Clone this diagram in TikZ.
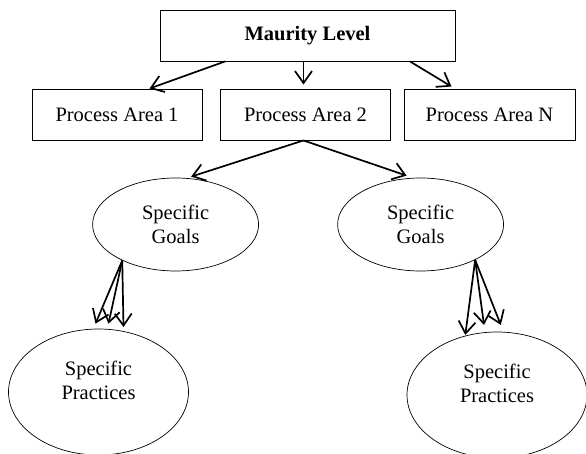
\documentclass[tikz,border=0pt]{standalone}
\usepackage{fontspec}
\setmainfont{Liberation Serif}
\usetikzlibrary{arrows.meta,shapes.geometric}
\begin{document}
\begin{tikzpicture}[x=1pt,y=-1pt,
    font=\fontsize{20.5}{24}\selectfont,
    box/.style={draw,line width=0.9pt,minimum height=51pt,inner sep=0pt},
    goal/.style={draw,ellipse,line width=0.7pt,minimum width=166pt,minimum height=93pt,inner sep=0pt,align=center},
    practice/.style={draw,ellipse,line width=0.7pt,minimum width=180pt,minimum height=126pt,inner sep=0pt},
    link/.style={line width=1.7pt,-{Straight Barb[length=12pt,width=17pt]}}]
				\useasboundingbox (0,0) rectangle (586,454);
				\clip (0,0) rectangle (586,454);
				\node[box,minimum width=295pt,font=\fontsize{20.5}{24}\selectfont\bfseries] (level) at (307.5,35.5) {Maurity Level};
				\node[box,minimum width=170pt] (pa1) at (117,114.5) {Process Area 1};
				\node[box,minimum width=170pt] (pa2) at (305.5,114.5) {Process Area 2};
				\node[box,minimum width=171pt] (paN) at (489.5,114.5) {Process Area N};
				\node[goal] (sgl) at (175.6,224.5) {Specific\\Goals};
				\node[goal] (sgr) at (420.6,224.5) {Specific\\Goals};
				\node[practice] (spl) at (98.5,392) {};
				\node[align=center] (spltext) at (98.5,380) {Specific\\Practices};
				\node[practice] (spr) at (497,395) {};
				\node[align=center] (sprtext) at (497,383) {Specific\\Practices};
				\draw[link] ([xshift=-82.5pt]level.south) to ([xshift=32.5pt]pa1.north);
				\draw[link] ([xshift=-4pt]level.south) to ([xshift=-2pt,yshift=4pt]pa2.north);
				\draw[link] ([xshift=102.5pt]level.south) to ([xshift=-38pt,yshift=2pt]paN.north);
				\draw[link] ([xshift=-2pt]pa2.south) to ([xshift=15.5pt,yshift=1pt]sgl.north);
				\draw[link] ([xshift=-2pt]pa2.south) to ([xshift=-14pt,yshift=2pt]sgr.north);
				\foreach \dx/\dy in {-3/5,10/5,25/1.6}
					\draw[link] (sgl.214) to ([xshift=\dx pt,yshift=\dy pt]spl.north);
				\foreach \dx/\dy in {-31.7/-3.3,-13/6.7,3.8/6.7}
					\draw[link] (sgr.327) to ([xshift=\dx pt,yshift=\dy pt]spr.north);
			\end{tikzpicture}
\end{document}
